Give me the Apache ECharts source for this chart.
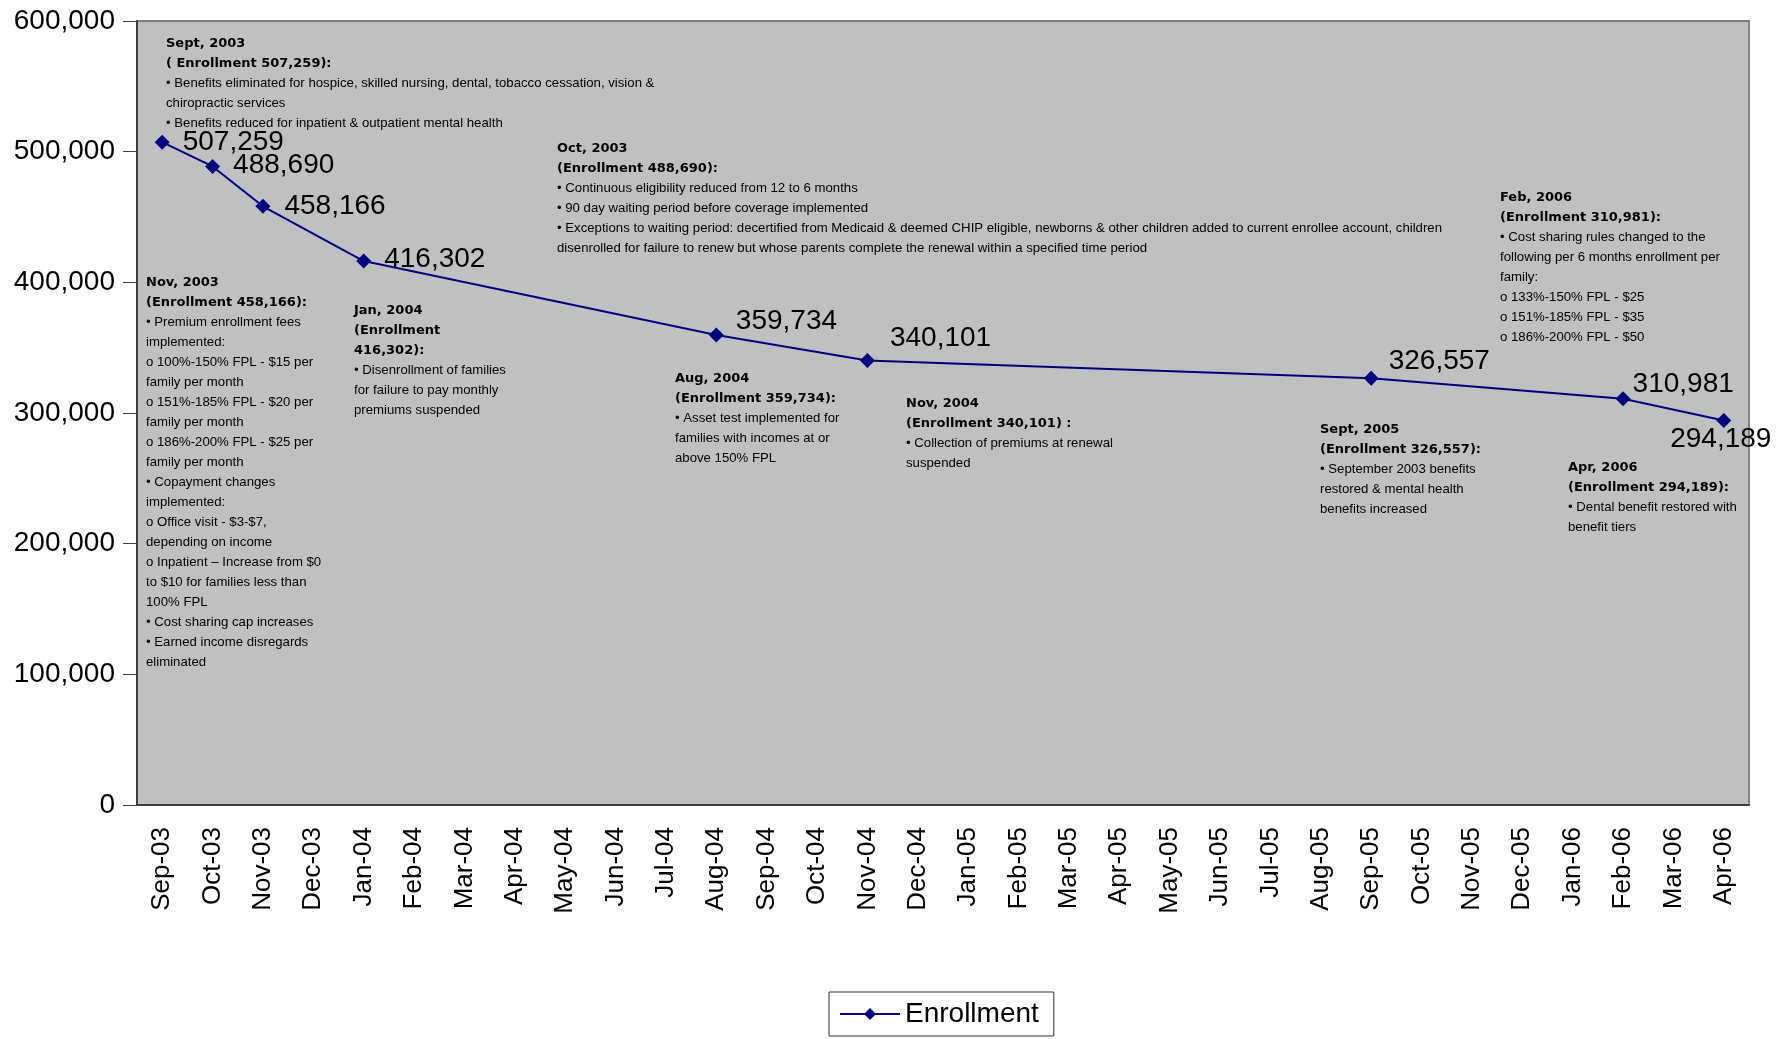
<!DOCTYPE html>
<html>
<head>
<meta charset="utf-8">
<script src="https://cdn.jsdelivr.net/npm/echarts@6/dist/echarts.min.js"></script>
<style>
  html, body { margin: 0; padding: 0; background: #fff; }
  #chart { width: 1787px; height: 1039px; }
</style>
</head>
<body>
<div id="chart"></div>
<script>
  // months on the x axis
  const months = [
    'Sep-03', 'Oct-03', 'Nov-03', 'Dec-03', 'Jan-04', 'Feb-04', 'Mar-04', 'Apr-04',
    'May-04', 'Jun-04', 'Jul-04', 'Aug-04', 'Sep-04', 'Oct-04', 'Nov-04', 'Dec-04',
    'Jan-05', 'Feb-05', 'Mar-05', 'Apr-05', 'May-05', 'Jun-05', 'Jul-05', 'Aug-05',
    'Sep-05', 'Oct-05', 'Nov-05', 'Dec-05', 'Jan-06', 'Feb-06', 'Mar-06', 'Apr-06'
  ]
  // enrollment, only the months with a reported value
  const enrollment = [
    507259, 488690, 458166, null, 416302, null, null, null,
    null, null, null, 359734, null, null, 340101, null,
    null, null, null, null, null, null, null, null,
    326557, null, null, null, null, 310981, null, 294189
  ]
  const yTicks = [0, 100000, 200000, 300000, 400000, 500000, 600000]

  // annotation texts
  const notes = [
    ['Sept, 2003', '( Enrollment 507,259):',
      '• Benefits eliminated for hospice, skilled nursing, dental, tobacco cessation, vision &',
      'chiropractic services',
      '• Benefits reduced for inpatient & outpatient mental health'],
    ['Oct, 2003', '(Enrollment 488,690):',
      '• Continuous eligibility reduced from 12 to 6 months',
      '• 90 day waiting period before coverage implemented',
      '• Exceptions to waiting period: decertified from Medicaid & deemed CHIP eligible, newborns & other children added to current enrollee account, children',
      'disenrolled for failure to renew but whose parents complete the renewal within a specified time period'],
    ['Nov, 2003', '(Enrollment 458,166):',
      '• Premium enrollment fees', 'implemented:',
      'o 100%-150% FPL - $15 per', 'family per month',
      'o 151%-185% FPL - $20 per', 'family per month',
      'o 186%-200% FPL - $25 per', 'family per month',
      '• Copayment changes', 'implemented:',
      'o Office visit - $3-$7,', 'depending on income',
      'o Inpatient – Increase from $0', 'to $10 for families less than', '100% FPL',
      '• Cost sharing cap increases',
      '• Earned income disregards', 'eliminated'],
    ['Jan, 2004', '(Enrollment', '416,302):',
      '• Disenrollment of families', 'for failure to pay monthly', 'premiums suspended'],
    ['Aug, 2004', '(Enrollment 359,734):',
      '• Asset test implemented for', 'families with incomes at or', 'above 150% FPL'],
    ['Nov, 2004', '(Enrollment 340,101) :',
      '• Collection of premiums at renewal', 'suspended'],
    ['Sept, 2005', '(Enrollment 326,557):',
      '• September 2003 benefits', 'restored & mental health', 'benefits increased'],
    ['Feb, 2006', '(Enrollment 310,981):',
      '• Cost sharing rules changed to the', 'following per 6 months enrollment per', 'family:',
      'o 133%-150% FPL - $25', 'o 151%-185% FPL - $35', 'o 186%-200% FPL - $50'],
    ['Apr, 2006', '(Enrollment 294,189):',
      '• Dental benefit restored with', 'benefit tiers']
  ]
  // how many header lines each note has (bold)
  const noteHeads = [2, 2, 2, 3, 2, 2, 2, 2, 2]
  // pixel spots of the notes [left, top]
  const noteSpots = [
    [166, 37], [557, 142], [146, 276], [354, 304], [675, 372],
    [906, 397], [1320, 423], [1500, 191], [1568, 461]
  ]
  // value label nudges [dx, dy] for each plotted point
  const labelNudge = {
    0: [13, 0], 1: [13, -1], 2: [14, 0], 4: [13, -2], 11: [12, -14],
    14: [15, -22], 24: [10, -17], 29: [2, -14]
  }

  const font = 'Liberation Sans, Arial, sans-serif'
  const headFont = 'DejaVu Sans, Liberation Sans, sans-serif'
  const fmt = v => Number(v).toLocaleString('en-US')

  const seriesData = enrollment.map((v, i) => {
    if (v === null) return null
    if (i === enrollment.length - 1) {
      return { value: v, label: { position: 'bottom', distance: 0, offset: [-3, -3] } }
    }
    const n = labelNudge[i] || [14, 0]
    return { value: v, label: { position: 'right', distance: 0, offset: n } }
  })

  const graphics = notes.map((lines, k) => {
    const txt = lines.map((l, j) => (j < noteHeads[k] ? '{h|' : '{b|') + l + '}').join('\n')
    return {
      type: 'text',
      left: noteSpots[k][0],
      top: noteSpots[k][1],
      z: 10,
      style: {
        text: txt,
        fill: '#000',
        rich: {
          h: { fontFamily: headFont, fontSize: 13, fontWeight: 'bold', lineHeight: 20, fill: '#000' },
          b: { fontFamily: font, fontSize: 13.2, lineHeight: 20, fill: '#000' }
        }
      }
    }
  })

  const chart = echarts.init(document.getElementById('chart'))
  const option = {
    backgroundColor: '#fff',
    animation: false,
    textStyle: { fontFamily: font },
    grid: {
      left: 137, right: 38, top: 21, bottom: 234,
      show: true, backgroundColor: '#C0C0C0', borderColor: '#808080', borderWidth: 2
    },
    legend: {
      data: ['Enrollment'],
      left: 829, top: 992,
      padding: [8, 15, 8, 10],
      borderColor: '#333', borderWidth: 1,
      itemWidth: 60, itemHeight: 15,
      textStyle: { fontSize: 28, color: '#000', fontFamily: font }
    },
    xAxis: {
      type: 'category',
      data: months,
      boundaryGap: true,
      axisLine: { lineStyle: { color: '#404040', width: 2 } },
      axisTick: { interval: 0, length: 11, lineStyle: { color: '#404040', width: 1 } },
      axisLabel: { interval: 0, rotate: 90, margin: 22, fontSize: 26, color: '#000', fontFamily: font },
      splitLine: { show: false }
    },
    yAxis: {
      type: 'value',
      min: yTicks[0],
      max: yTicks[yTicks.length - 1],
      interval: yTicks[1] - yTicks[0],
      axisLine: { show: true, lineStyle: { color: '#404040', width: 2 } },
      axisTick: { show: true, inside: false, length: 14, lineStyle: { color: '#404040', width: 1 } },
      axisLabel: { margin: 22, fontSize: 28, color: '#000', fontFamily: font, formatter: fmt },
      splitLine: { show: false }
    },
    series: [
      {
        name: 'Enrollment',
        type: 'line',
        data: seriesData,
        connectNulls: true,
        symbol: 'diamond',
        symbolSize: 15,
        itemStyle: { color: '#000080' },
        lineStyle: { color: '#000080', width: 2 },
        label: {
          show: true,
          fontSize: 28,
          color: '#000',
          fontFamily: font,
          formatter: p => fmt(p.value)
        }
      }
    ],
    graphic: graphics
  }
  chart.setOption(option)
</script>
</body>
</html>
